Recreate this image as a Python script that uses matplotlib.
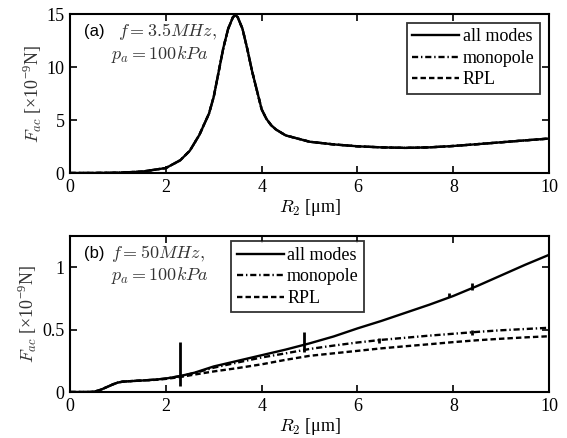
import matplotlib
matplotlib.use('Agg')
import matplotlib.pyplot as plt
import numpy as np

plt.rcParams['font.family'] = ['Liberation Serif', 'DejaVu Serif']
plt.rcParams['mathtext.fontset'] = 'cm'

# panel (a): f = 3.5 MHz, all three models coincide
r_a = [0, 0.5, 1.0, 1.5, 2.0, 2.3, 2.5, 2.7, 2.9, 3.0, 3.1, 3.2, 3.3, 3.4, 3.45,
       3.5, 3.6, 3.7, 3.8, 3.9, 4.0, 4.1, 4.2, 4.3, 4.5, 5.0, 5.5, 6.0, 6.5, 7.0,
       7.5, 8.0, 8.5, 9.0, 9.5, 10]
f_all_a = [0, 0.005, 0.03, 0.13, 0.47, 1.2, 2.1, 3.6, 5.6, 7.2, 9.5, 11.8, 13.6,
           14.7, 14.9, 14.7, 13.6, 11.7, 9.6, 7.8, 6.0, 5.1, 4.5, 4.1, 3.55, 2.95,
           2.7, 2.52, 2.42, 2.37, 2.42, 2.55, 2.72, 2.9, 3.08, 3.25]
f_mono_a = f_all_a
f_rpl_a = f_all_a

# panel (b): f = 50 MHz
r_b = [0, 0.4, 0.5, 0.6, 0.7, 0.8, 0.9, 1.0, 1.1, 1.3, 1.5, 1.8, 2.0, 2.3, 2.6,
       3.0, 3.5, 4.0, 4.5, 5.0, 5.5, 6.0, 6.5, 7.0, 7.5, 8.0, 8.5, 9.0, 9.5, 10]
f_all_b = [0, 0, 0.003, 0.012, 0.028, 0.045, 0.062, 0.076, 0.083, 0.088, 0.092,
           0.100, 0.108, 0.128, 0.155, 0.205, 0.25, 0.295, 0.34, 0.39, 0.445,
           0.51, 0.57, 0.635, 0.70, 0.77, 0.85, 0.935, 1.02, 1.10]
f_mono_b = [0, 0, 0.003, 0.012, 0.028, 0.045, 0.062, 0.076, 0.083, 0.088, 0.092,
            0.100, 0.108, 0.127, 0.152, 0.195, 0.237, 0.277, 0.31, 0.345, 0.372,
            0.397, 0.418, 0.435, 0.452, 0.467, 0.482, 0.495, 0.505, 0.515]
f_rpl_b = [0, 0, 0.003, 0.012, 0.028, 0.045, 0.062, 0.076, 0.083, 0.088, 0.092,
           0.098, 0.105, 0.12, 0.14, 0.165, 0.192, 0.222, 0.258, 0.29, 0.31,
           0.33, 0.35, 0.367, 0.383, 0.40, 0.415, 0.427, 0.438, 0.447]

# numerical glitches in the curves
spike_r = [2.3, 4.88, 7.9, 8.4, 10.0, 6.45, 8.4, 10.0]
spike_lo = [0.05, 0.32, 0.76, 0.82, 1.05, 0.39, 0.455, 0.49]
spike_hi = [0.40, 0.48, 0.79, 0.87, 1.20, 0.43, 0.50, 0.53]

labels = ['all modes', 'monopole', 'RPL']
dashes = [[], [2.6, 1.2, 0.6, 1.2], [2.3, 1.3]]

fig = plt.figure(figsize=(5.67, 4.38), dpi=100)
ax1 = fig.add_axes([0.1235, 0.605, 0.845, 0.363])
ax2 = fig.add_axes([0.1235, 0.105, 0.845, 0.356])


def style_axes(ax, ylim, yticks, yticklabels):
    ax.set_xlim(0, 10)
    ax.set_ylim(*ylim)
    ax.set_xticks([0, 2, 4, 6, 8, 10])
    ax.set_yticks(yticks)
    ax.set_yticklabels(yticklabels)
    ax.tick_params(direction='in', top=True, right=True, length=5, width=1.2,
                   labelsize=13, pad=4)
    for s in ax.spines.values():
        s.set_linewidth(1.5)
    ax.set_xlabel(r'$R_2$ [μm]', fontsize=13, labelpad=1)
    ax.set_ylabel(r'$F_{ac}$ [×10$^{\mathregular{-9}}$N]', fontsize=13,
                  color='#333333', labelpad=2)


def draw(ax, curves):
    for y, d, lab in zip(curves, dashes, labels):
        line, = ax.plot(ax_x[ax], y, color='black', lw=1.7, label=lab)
        if d:
            line.set_dashes(d)


ax_x = {ax1: r_a, ax2: r_b}

draw(ax1, [f_all_a, f_mono_a, f_rpl_a])
style_axes(ax1, (0, 15), [0, 5, 10, 15], ['0', '5', '10', '15'])
leg1 = ax1.legend(loc='upper right', fontsize=13, frameon=True, fancybox=False,
                  edgecolor='black', handlelength=2.6, handletextpad=0.2,
                  labelspacing=0.25, borderpad=0.3, borderaxespad=0.5)
leg1.get_frame().set_linewidth(1.3)
ax1.text(0.03, 0.86, '(a)', transform=ax1.transAxes, fontsize=12,
         family='Liberation Sans')
ax1.text(0.1, 0.86, r'$f = 3.5MHz,$', transform=ax1.transAxes, fontsize=13,
         color='#333333')
ax1.text(0.085, 0.72, r'$p_a = 100kPa$', transform=ax1.transAxes, fontsize=13,
         color='#333333')

draw(ax2, [f_all_b, f_mono_b, f_rpl_b])
ax2.vlines(spike_r, spike_lo, spike_hi, color='black', lw=2)
style_axes(ax2, (0, 1.25), [0, 0.5, 1], ['0', '0.5', '1'])
leg2 = ax2.legend(loc='upper left', bbox_to_anchor=(0.325, 1.0), fontsize=13,
                  frameon=True, fancybox=False, edgecolor='black',
                  handlelength=2.6, handletextpad=0.2, labelspacing=0.25,
                  borderpad=0.3, borderaxespad=0.3)
leg2.get_frame().set_linewidth(1.3)
ax2.text(0.03, 0.86, '(b)', transform=ax2.transAxes, fontsize=12,
         family='Liberation Sans')
ax2.text(0.085, 0.86, r'$f = 50MHz,$', transform=ax2.transAxes, fontsize=13,
         color='#333333')
ax2.text(0.085, 0.72, r'$p_a = 100kPa$', transform=ax2.transAxes, fontsize=13,
         color='#333333')

fig.savefig('out.png', dpi=100)
